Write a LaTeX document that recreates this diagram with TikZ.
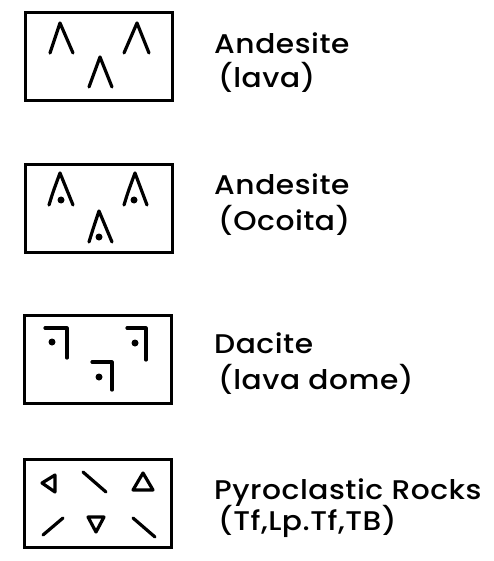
\documentclass[tikz,border=0pt]{standalone}
\usepackage{fontspec}
\IfFontExistsTF{Poppins Medium}
  {\setmainfont{Poppins Medium}[FakeStretch=1.1,LetterSpace=2]}
  {\setmainfont{Poppins}[FakeStretch=1.1,LetterSpace=2,FakeBold=1.2]}
\begin{document}
\begin{tikzpicture}[x=1pt,y=-1pt,
  legbox/.style={draw=black,line width=3pt,inner sep=0pt,minimum width=147pt,minimum height=88pt},
  sym/.style={draw=black,line width=3.2pt,line cap=round,line join=round},
  dotsym/.style={fill=black},
  lbl/.style={anchor=base west,inner sep=0pt,font=\fontsize{27}{30}\selectfont}]
\useasboundingbox (0,0) rectangle (493,561);
% boxes
\node[legbox] (box1) at (98.5,57) {};
\node[legbox] (box2) at (98.5,208.5) {};
\node[legbox] (box3) at (98,359) {};
\node[legbox] (box4) at (97.5,503.5) {};
% box 1 symbols: Andesite (lava)
\draw[sym] (50,53) -- (60,23) -- (73,53);
\draw[sym] (124,53) -- (137,23) -- (149,53);
\draw[sym] (89,87) -- (100,57) -- (112,87);
% box 2 symbols: Andesite (Ocoita)
\draw[sym] (49,205) .. controls (53,192) .. (60,173) -- (73,205);
\fill[dotsym] (61,200) circle (3.5pt);
\draw[sym] (124,205) .. controls (128,192) .. (135,173) -- (147,205);
\fill[dotsym] (134,200) circle (3.5pt);
\draw[sym] (89,242) .. controls (93,229) .. (99,211) -- (112,242);
\fill[dotsym] (99,237) circle (3.5pt);
% box 3 symbols: Dacite
\draw[sym] (45,328) -- (67,328) -- (67,358);
\fill[dotsym] (52,342) circle (3.5pt);
\draw[sym] (127,328) -- (146,328) -- (146,360);
\fill[dotsym] (135,343) circle (3.5pt);
\draw[sym] (92,362) -- (112,362) -- (112,390);
\fill[dotsym] (99,377) circle (3.5pt);
% box 4 symbols: Pyroclastic rocks
\draw[sym] (55,475) -- (42,483) -- (55,492) -- cycle;
\draw[sym] (83,472) -- (106,492);
\draw[sym] (143,473) -- (133,490) -- (153,490) -- cycle;
\draw[sym] (43,535) -- (63,518);
\draw[sym] (88,517) -- (104,517) -- (96,532) -- cycle;
\draw[sym] (133,518) -- (155,537);
% labels
\node[lbl] (t1a) at (214,54) {Andesite};
\node[lbl] (t1b) at (218,88) {(lava)};
\node[lbl] (t2a) at (214,195) {Andesite};
\node[lbl] (t2b) at (218,230) {(Ocoita)};
\node[lbl] (t3a) at (214,353) {Dacite};
\node[lbl] (t3b) at (218,389) {(lava dome)};
\node[lbl] (t4a) at (214,499) {Pyroclastic Rocks};
\node[lbl] (t4b) at (218,530) {(Tf,Lp.Tf,TB)};
\end{tikzpicture}
\end{document}
